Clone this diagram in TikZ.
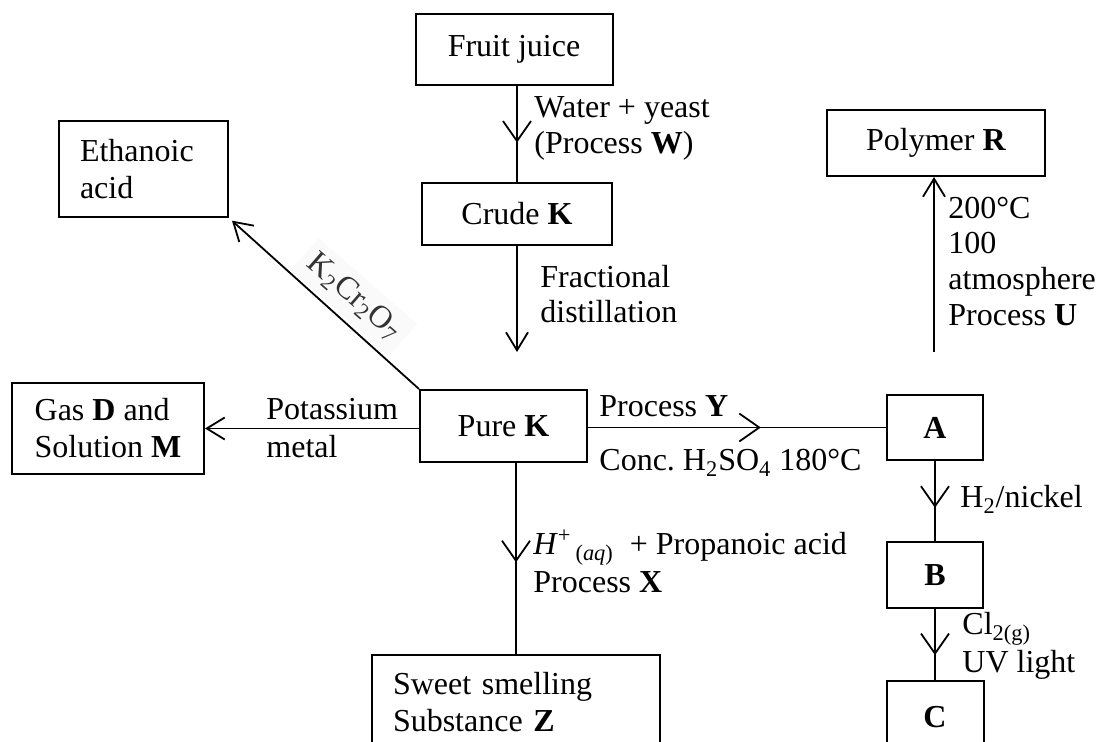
\documentclass[tikz,border=0pt]{standalone}
\usepackage{fontspec}
\setmainfont{Liberation Serif}
\usetikzlibrary{arrows.meta,decorations.markings}
\begin{document}
\begin{tikzpicture}[x=0.5pt,y=-0.5pt,
  font=\fontsize{16pt}{18.5pt}\selectfont,
  box/.style={draw, line width=1pt, inner sep=0pt},
  lab/.style={anchor=base west, inner sep=0pt},
  conn/.style={line width=0.9pt},
  endarr/.style={-{Straight Barb[length=9pt,width=11pt,line width=0.9pt]}},
  midarrow/.style={postaction={decorate}, decoration={markings, mark=at position #1 with {\arrow{Straight Barb[length=10pt,width=14pt,line width=0.9pt]}}}}
]
\useasboundingbox (0,0) rectangle (1098,742);
\clip (0,0) rectangle (1098,742);

% boxes
\node[box, minimum width=98.5pt, minimum height=35.5pt] (fj) at (514,49.5) {Fruit juice};
\node[box, minimum width=95pt, minimum height=31pt] (crude) at (517,214) {Crude \textbf{K}};
\node[box, minimum width=84.5pt, minimum height=48pt, text width=63.5pt, align=left] (eth) at (143.5,169) {Ethanoic\\acid};
\node[box, minimum width=109pt, minimum height=33pt] (polyR) at (936,143) {Polymer \textbf{R}};
\node[box, minimum width=83.5pt, minimum height=36pt] (pk) at (503.5,426) {Pure \textbf{K}};
\node[box, minimum width=96pt, minimum height=45.5pt, align=left] (gas) at (108,428.5) {Gas \textbf{D} and\\Solution \textbf{M}};
\node[box, minimum width=48pt, minimum height=32.5pt] (A) at (935,427.5) {\textbf{A}};
\node[box, minimum width=48pt, minimum height=33pt] (B) at (935,575) {\textbf{B}};
\node[box, anchor=north, minimum width=48.5pt, inner ysep=12.5pt] (C) at (935,680) {\textbf{C}\rule[-20pt]{0pt}{0pt}};
\node[box, anchor=north, minimum width=144pt, inner ysep=8.5pt, text width=123pt, align=left] (z) at (516,654) {Sweet smelling\\Substance \textbf{Z}\rule[-20pt]{0pt}{0pt}};

% connectors
\draw[conn, midarrow=0.59] (crude.north |- fj.south) -- (crude.north);
\coordinate (fd) at (517,352);
\draw[conn, endarr] (crude.south) -- (fd);
\draw[conn, endarr, shorten >=2pt] (pk.north west) -- (eth.south east);
\draw[conn, endarr] (pk.west |- gas.east) -- (gas.east);
\draw[conn, midarrow=0.58] (pk.east |- A.west) -- (A.west);
\draw[conn, midarrow=0.585] (A.south) -- (B.north);
\draw[conn, midarrow=0.65] (B.south) -- (C.north);
\draw[conn, midarrow=0.52] (pk.south -| z.north) -- (z.north);
\coordinate (u0) at (934,352);
\draw[conn, endarr] (u0) -- (u0 |- polyR.south);

% labels
\node[lab] (l1) at (534,118) {Water + yeast};
\node[lab] (l2) at (534,154) {(Process \textbf{W})};
\node[lab] (l3) at (540,288) {Fractional};
\node[lab] (l4) at (540,323) {distillation};
\node[lab] (l5) at (266,420) {Potassium};
\node[lab] (l6) at (266,458) {metal};
\node[lab] (l7) at (599,417) {Process \textbf{Y}};
\node[lab] (l8) at (599,471) {Conc.\ H\textsubscript{2}SO\textsubscript{4} 180°C};
\node[lab] (l9) at (960,508) {H\textsubscript{2}/nickel};
\node[lab] (l10) at (962,635) {Cl\textsubscript{2(g)}};
\node[lab] (l11) at (962,673) {UV light};
\node[lab] (l12) at (533,555) {\textit{H}\textsuperscript{+}\hspace{2pt}\textsubscript{(\textit{aq})}\hspace{4pt} + Propanoic acid};
\node[lab] (l13) at (533,593) {Process \textbf{X}};
\node[lab] (l14) at (948,219) {200°C};
\node[lab] (l15) at (948,254) {100};
\node[lab] (l16) at (948,290) {atmosphere};
\node[lab] (l17) at (948,326) {Process \textbf{U}};
\node[rotate=-41, fill=gray!4, text=black!80, inner sep=4pt] (kcr) at (354,297) {K\textsubscript{2}Cr\textsubscript{2}O\textsubscript{7}};
\end{tikzpicture}
\end{document}
